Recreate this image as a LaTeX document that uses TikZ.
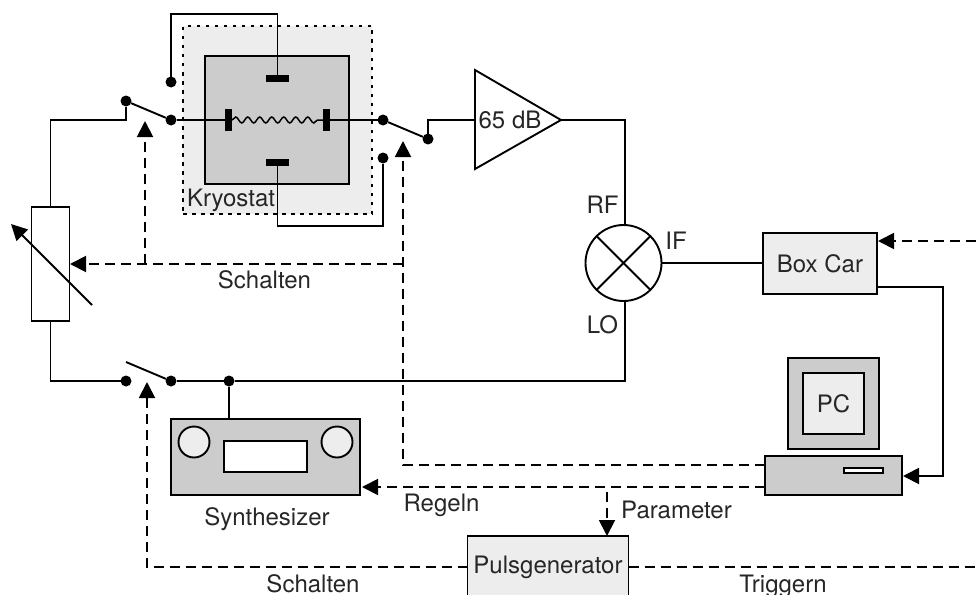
\documentclass[tikz,border=0pt]{standalone}
\usepackage{fontspec}
\setmainfont{TeX Gyre Heros}
\usetikzlibrary{arrows.meta,decorations.pathmorphing}
\definecolor{lg}{HTML}{EDEDED}
\definecolor{mg}{HTML}{CCCCCC}
\tikzset{
  wire/.style={line width=1.9pt,line join=miter,draw=black},
  ctl/.style={line width=1.9pt,draw=black,dash pattern=on 10pt off 6pt},
  tip/.style={-{Triangle[length=16pt,width=16pt]}},
  dotn/.style={circle,fill=black,draw=none,minimum size=11pt,inner sep=0pt,outer sep=0pt},
  blk/.style={rectangle,fill=black,draw=none,inner sep=0pt,outer sep=0pt},
  box/.style={rectangle,draw=black,line width=1.9pt,inner sep=0pt,outer sep=0pt},
  lbl/.style={font=\fontsize{24}{26}\selectfont,inner sep=0pt,outer sep=0pt,text=black!85}
}
\begin{document}
\begin{tikzpicture}[x=1pt,y=-1pt]
\useasboundingbox (0,0) rectangle (976,594);
\clip (0,0) rectangle (976,594);
% Kryostat
\node[rectangle,fill=lg,draw=black,line width=1.9pt,dash pattern=on 3.5pt off 5.5pt,minimum width=189pt,minimum height=188pt,inner sep=0pt] (kryo) at (277.5,120) {};
\node[box,fill=mg,minimum width=144pt,minimum height=128pt] (inner) at (277,120) {};
\node[lbl,anchor=base west] (kryolbl) at (187,206) {Kryostat};
% plates
\node[blk,minimum width=23pt,minimum height=7pt] (ptop) at (277.5,78.5) {};
\node[blk,minimum width=23pt,minimum height=7pt] (pbot) at (277.5,162) {};
\node[blk,minimum width=7pt,minimum height=22pt] (pl) at (228.5,120) {};
\node[blk,minimum width=7pt,minimum height=22pt] (pr) at (326.5,120) {};
\draw[line width=1.5pt,decorate,decoration={snake,amplitude=3pt,segment length=12pt}] (pl.east) -- (pr.west);
% switch contacts
\node[dotn] (a1) at (126,101) {};
\node[dotn] (a2) at (171,120) {};
\node[dotn] (a3) at (171,82) {};
\node[dotn] (b1) at (383,120) {};
\node[dotn] (b2) at (428,139) {};
\node[dotn] (b3) at (383,158) {};
\node[dotn] (c1) at (126,381) {};
\node[dotn] (c2) at (171,381) {};
\node[dotn] (c3) at (229,381) {};
\coordinate (cblade) at (126,362);
% amplifier
\coordinate (ampin) at (475,120);
\coordinate (ampout) at (561,120);
\draw[wire,fill=white] (475,70) -- (ampout) -- (475,169) -- cycle;
\node[lbl,anchor=base] (amp) at (510,128) {65 dB};
% mixer
\node[circle,draw=black,line width=1.9pt,fill=white,minimum size=76pt,inner sep=0pt,outer sep=0pt] (mix) at (623.5,263) {};
\draw[wire] (mix.45) -- (mix.225);
\draw[wire] (mix.135) -- (mix.315);
\node[lbl,anchor=base] (rf) at (602.5,213) {RF};
\node[lbl,anchor=base] (if) at (676,249) {IF};
\node[lbl,anchor=base] (lo) at (602.5,333) {LO};
% resistor
\node[box,fill=white,minimum width=38pt,minimum height=114pt] (res) at (50.5,264) {};
\coordinate (rs) at (92,305);
\coordinate (re) at (11,224);
\draw[line width=1.9pt,tip] (rs) -- (re);
% boxes
\node[box,fill=lg,minimum width=114pt,minimum height=61pt,lbl] (boxcar) at (820,263.5) {Box Car};
\node[box,fill=mg,minimum width=189pt,minimum height=76pt] (syn) at (265.5,457) {};
\node[circle,draw=black,line width=1.9pt,fill=lg,minimum size=31pt,inner sep=0pt] (k1) at (194,442) {};
\node[circle,draw=black,line width=1.9pt,fill=lg,minimum size=31pt,inner sep=0pt] (k2) at (337,442) {};
\node[box,fill=white,minimum width=83pt,minimum height=31pt] (disp) at (265.5,456.5) {};
\node[lbl,anchor=base] (synlbl) at (267,525) {Synthesizer};
\node[box,fill=mg,minimum width=91pt,minimum height=91pt] (mon) at (833.5,403.5) {};
\node[box,fill=lg,minimum width=61pt,minimum height=61pt,lbl] (pc) at (833.5,403.5) {PC};
\node[box,fill=mg,minimum width=137pt,minimum height=39pt] (base) at (833.5,475.5) {};
\node[box,fill=white,minimum width=39pt,minimum height=5pt] (slot) at (863.5,470.5) {};
\node[box,fill=lg,minimum width=161pt,minimum height=62pt,lbl] (pg) at (548,567) {Pulsgenerator};
% solid wiring
\draw[wire] (res.north) |- (a1 |- a2) -- (a1);
\draw[wire] (a1) -- (a2);
\draw[wire] (a2) -- (pl);
\draw[wire] (pr) -- (b1);
\draw[wire] (b1) -- (b2);
\draw[wire] (b2) |- (ampin);
\draw[wire] (ptop) |- (a3 |- 0,14) -- (a3);
\draw[wire] (pbot) |- (b3 |- 0,226) -- (b3);
\draw[wire] (ampout) -| (625,225);
\draw[wire] (625,301) |- (c3);
\draw[wire] (c3) -- (c2);
\draw[wire] (res.south) |- (c1);
\draw[wire] (cblade) -- (c2);
\draw[wire] (c3) -- (c3 |- syn.north);
\draw[wire] (mix.east) -- (boxcar.west |- mix.east);
\coordinate (bcout) at (877,287);
\coordinate (pcin) at (903,476);
\draw[wire,tip] (bcout) -- (943,287) |- (pcin);
% control lines
\coordinate (trigend) at (976,241);
\coordinate (bcin) at (878,241);
\draw[ctl,tip] (trigend) -- (bcin);
\coordinate (pgr) at (976,567);
\draw[ctl] (pg.east) -- (pgr);
\coordinate (hj) at (403,264);
\coordinate (resin) at (70,264);
\coordinate (vj) at (145,264);
\draw[ctl,tip] (hj) -- (resin);
\draw[ctl,tip] (vj) -- (145,121);
\coordinate (b403) at (403,141);
\draw[ctl,tip] (765,465) -| (b403);
\coordinate (regs) at (765,487);
\coordinate (synin) at (362,487);
\draw[ctl,tip] (regs) -- (synin);
\coordinate (pj) at (607,492);
\draw[ctl,tip] (pj) -- (607,536);
\coordinate (c147) at (147,382);
\draw[ctl,tip] (pg.west) -| (c147);
% labels
\node[lbl,anchor=base] (s1) at (264.5,288) {Schalten};
\node[lbl,anchor=base] (rg) at (441.5,511) {Regeln};
\node[lbl,anchor=base] (pa) at (676.5,518) {Parameter};
\node[lbl,anchor=base] (s2) at (313,592) {Schalten};
\node[lbl,anchor=base] (tr) at (783,592) {Triggern};
\end{tikzpicture}
\end{document}
